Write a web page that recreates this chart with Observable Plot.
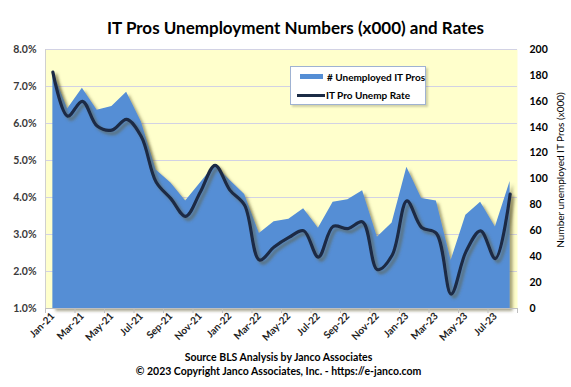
<!DOCTYPE html>
<html><head><meta charset="utf-8">
<script src="https://cdn.jsdelivr.net/npm/d3@7"></script>
<script src="https://cdn.jsdelivr.net/npm/@observablehq/plot@0.6"></script>
<style>
body{margin:0;background:#fff;font-family:Lato,"Open Sans",sans-serif;}
#wrap{position:relative;width:571px;height:387px;overflow:hidden;}
#title{box-sizing:border-box;height:40px;padding-top:18px;padding-left:20px;line-height:20px;text-align:center;font-weight:bold;font-size:17px;color:#000;white-space:nowrap;}
#caption{box-sizing:border-box;padding-right:14px;text-align:center;font-weight:bold;font-size:10.5px;line-height:14px;color:#000;white-space:nowrap;}
#legend{position:absolute;left:290px;top:66px;width:134px;height:37px;background:#fff;border:1px solid #9fb2d2;box-shadow:2px 2px 2px rgba(0,0,0,0.18);font-size:10px;font-weight:bold;}
.row{position:absolute;left:0;height:14px;line-height:14px;white-space:nowrap;}
.sw{position:absolute;top:5px;}
#ylab2{position:absolute;left:560px;top:170px;transform:translate(-50%,-50%) rotate(-90deg);font-size:10px;white-space:nowrap;color:#000;}
</style></head>
<body>
<div id="wrap">
  <div id="title">IT Pros Unemployment Numbers (x000) and Rates</div>
  <div id="chart"></div>
  <div id="caption">Source BLS Analysis by Janco Associates<br>© 2023 Copyright Janco Associates, Inc. - https://e-janco.com</div>
  <div id="legend">
    <div class="row" style="top:3px;"><div class="sw" style="left:9px;width:23px;height:5px;top:4px;background:#558ed5;"></div><span style="position:absolute;left:36px;">#&nbsp;Unemployed IT Pros</span></div>
    <div class="row" style="top:21px;"><div class="sw" style="left:6px;width:28px;height:3px;top:6px;background:#1b2b45;"></div><span style="position:absolute;left:35px;">IT Pro Unemp Rate</span></div>
  </div>
  <div id="ylab2">Number unemployed IT Pros (x000)</div>
</div>
<script>
const months = ["Jan-21","Feb-21","Mar-21","Apr-21","May-21","Jun-21","Jul-21","Aug-21","Sep-21","Oct-21","Nov-21","Dec-21",
  "Jan-22","Feb-22","Mar-22","Apr-22","May-22","Jun-22","Jul-22","Aug-22","Sep-22","Oct-22","Nov-22","Dec-22",
  "Jan-23","Feb-23","Mar-23","Apr-23","May-23","Jun-23","Jul-23","Aug-23"];
const unemployed = [183,154,170,153,156,167,144,107,97,83,97,111,99,88,58,67,69,77,62,82,84,91,55,66,109,85,83,37,72,82,63,98];
const ratePct = [7.39,6.20,6.60,5.93,5.82,6.11,5.64,4.42,3.97,3.49,4.15,4.87,4.20,3.79,2.31,2.66,2.92,3.10,2.39,3.22,3.16,3.34,2.05,2.44,3.91,3.19,3.03,1.39,2.53,3.10,2.35,4.09];
const leftTicks = [1,2,3,4,5,6,7,8];
const rightTicks = [0,20,40,60,80,100,120,140,160,180,200];

const toLeft = v => 1 + v * 7 / 200;   // map right-axis value onto left-axis scale
const data = months.map((m, i) => ({i, month: m, count: unemployed[i], rate: ratePct[i]}));
const labelIdx = months.map((m, i) => i).filter(i => i % 2 === 0);
const tickIdx = d3.range(-0.5, months.length, 2);

const plot = Plot.plot({
  width: 571, height: 310,
  marginLeft: 45, marginRight: 54, marginTop: 9, marginBottom: 42,
  style: {fontFamily: "Lato, 'Open Sans', sans-serif", fontSize: "10.5px", fontWeight: "bold", color: "#333", background: "transparent"},
  x: {domain: [-0.5, months.length - 0.5], axis: null},
  y: {domain: [1, 8], axis: null},
  marks: [
    Plot.frame({fill: "#ffffcc", stroke: null}),
    Plot.gridY(leftTicks, {stroke: "#d2d2e4", strokeOpacity: 1}),
    Plot.areaY(data, {x: "i", y1: 1, y2: d => toLeft(d.count), fill: "#558ed5", curve: "linear"}),
    Plot.lineY(data, {x: "i", y: "rate", stroke: "#1b2b45", strokeWidth: 3.2, curve: "catmull-rom"}),
    Plot.ruleY([1], {stroke: "#bfbfbf"}),
    Plot.ruleX([-0.5], {stroke: "#d0d0d0"}),
    Plot.axisY({anchor: "left", ticks: leftTicks, tickFormat: d => d.toFixed(1) + "%", tickSize: 0, tickPadding: 9, label: null, fill: "#3a3a3a"}),
    Plot.axisY({anchor: "right", ticks: rightTicks.map(toLeft), tickFormat: d => String(Math.round((d - 1) * 200 / 7)), tickSize: 0, tickPadding: 12, label: null, fill: "#000"}),
    Plot.axisX({ticks: tickIdx, tickFormat: () => "", tickSize: 5, stroke: "#bfbfbf", label: null}),
    Plot.axisX({ticks: labelIdx, tickFormat: i => months[i], tickRotate: -45, tickSize: 0, tickPadding: 6, label: null, fill: "#222", fontSize: 10})
  ]
});
document.getElementById("chart").appendChild(plot);

// Excel-like soft drop shadow under the area and the line
const ns = "http://www.w3.org/2000/svg";
const defs = document.createElementNS(ns, "defs");
defs.innerHTML = '<filter id="sh" x="-10%" y="-10%" width="130%" height="130%"><feDropShadow dx="3" dy="3" stdDeviation="1.6" flood-color="#5e5a30" flood-opacity="0.55"/></filter>';
plot.insertBefore(defs, plot.firstChild);
plot.querySelectorAll('g[aria-label="area"], g[aria-label="line"]').forEach(g => g.setAttribute("filter", "url(#sh)"));
</script>
</body></html>
